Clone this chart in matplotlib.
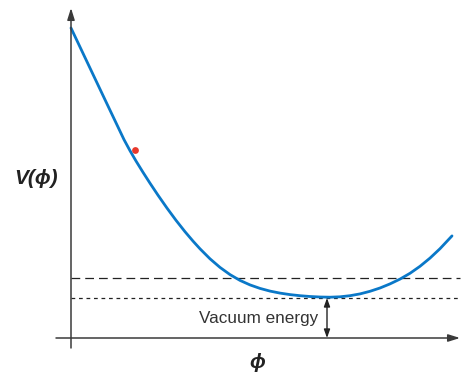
import matplotlib
matplotlib.use("Agg")
import matplotlib.pyplot as plt

# Potential curve V(phi) (arbitrary units)
phi = [0, 11, 23, 35, 47, 53, 59, 65, 72, 79, 87, 96, 105, 114, 122, 129,
       139, 149, 159, 169, 179, 189, 199, 209, 219, 229, 239, 249, 259, 269,
       279, 289, 299, 309, 319, 329, 339, 349, 359, 369, 381]
V = [310, 286.8, 261.5, 236.2, 211, 198.4, 187.3, 177, 165.7, 154.8, 142.8,
     129.9, 117.7, 106.3, 96.9, 89.2, 79.2, 70.6, 63.4, 57.6, 53.1, 49.6,
     46.9, 44.9, 43.4, 42.3, 41.5, 41.0, 40.8, 41.2, 42.3, 44.1, 46.7, 50.0,
     54.1, 58.9, 64.7, 71.7, 79.9, 89.3, 102.1]

ball_phi = [64]
ball_V = [188]

vacuum_level = 40      # short-dashed line (vacuum energy)
upper_level = 60       # long-dashed line
arrow_phi = 256        # position of the vacuum-energy arrow

fig = plt.figure(figsize=(4.61, 3.77), dpi=100)
ax = fig.add_axes([0, 0, 1, 1])
ax.set_xlim(-71, 390)
ax.set_ylim(-39, 338)
ax.axis("off")

axis_col = "#3a3a3a"
# axes with arrows
ax.annotate("", xy=(0, 330), xytext=(0, -10),
            arrowprops=dict(arrowstyle="-|>,head_length=0.7,head_width=0.22",
                            lw=1.1, color=axis_col, shrinkA=0, shrinkB=0))
ax.annotate("", xy=(389, 0), xytext=(-15, 0),
            arrowprops=dict(arrowstyle="-|>,head_length=0.7,head_width=0.22",
                            lw=1.1, color=axis_col, shrinkA=0, shrinkB=0))

# dashed reference lines
ax.plot([0, 389], [upper_level, upper_level], color="#222222", lw=0.9,
        dashes=(7, 4))
ax.plot([0, 389], [vacuum_level, vacuum_level], color="#222222", lw=0.9,
        dashes=(3, 3))

# potential curve
ax.plot(phi, V, color="#0a78c8", lw=2.0, solid_capstyle="round",
        solid_joinstyle="round")

# ball
ax.scatter(ball_phi, ball_V, s=24, color="#e8392c", zorder=5, linewidths=0)

# vacuum energy arrow
ax.annotate("", xy=(arrow_phi, vacuum_level), xytext=(arrow_phi, 0),
            arrowprops=dict(arrowstyle="<|-|>,head_length=0.5,head_width=0.18",
                            lw=1.0, color="#222222", shrinkA=0, shrinkB=0))
ax.text(247, 20, "Vacuum energy", ha="right", va="center",
        fontsize=12.3, family="Liberation Sans", color="#333333")

# axis labels
fams = ["Liberation Sans", "DejaVu Sans"]
ax.text(186, -25, "\u03d5", ha="center", va="center", fontsize=15,
        family=fams, fontweight="bold", style="italic", color="#222222")
ax.text(-35, 160, "V(\u03d5)", ha="center", va="center", fontsize=15,
        family=fams, fontweight="bold", style="italic", color="#222222")

fig.savefig("out.png", dpi=100)
